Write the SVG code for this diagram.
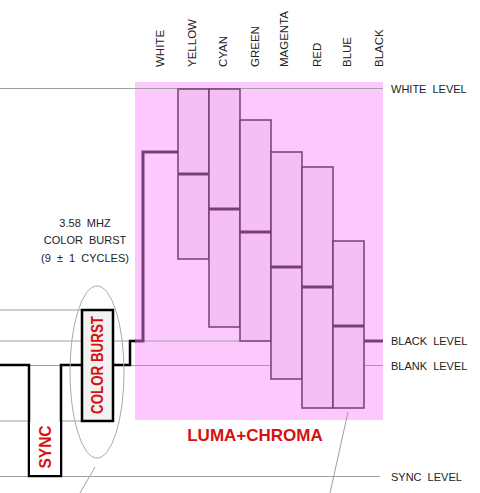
<svg xmlns="http://www.w3.org/2000/svg" width="480" height="493" viewBox="0 0 480 493">
<style>
.g{stroke:#a0a0a0;stroke-width:1;fill:none}
.col{fill:#f4c0f4;stroke:#7a3c7a;stroke-width:1.5}
.mid{stroke:#7a3c7a;stroke-width:3}
.lbl{font-family:"Liberation Sans",Arial,sans-serif;font-size:11px;fill:#222}
.cl{font-size:11.5px}
.red{font-family:"Liberation Sans",Arial,sans-serif;font-weight:bold;fill:#d81010}
</style>
<rect width="480" height="493" fill="#fff"/>
<g id="background">
<rect x="135" y="82" width="248" height="338" fill="#fdc8fd"/>
</g>
<g id="levels">
<line class="g" x1="0" y1="88.5" x2="383" y2="88.5"/>
<line class="g" x1="0" y1="310" x2="82" y2="310"/>
<line class="g" x1="0" y1="341" x2="383" y2="341"/>
<line class="g" x1="0" y1="365.5" x2="383" y2="365.5"/>
<line class="g" x1="0" y1="421" x2="29" y2="421"/>
<line class="g" x1="61" y1="421" x2="82" y2="421"/>
<line class="g" x1="0" y1="476.5" x2="380" y2="476.5"/>
</g>
<g id="columns">
<rect class="col" x="178" y="89" width="31" height="170"/>
<line class="mid" x1="178" y1="174" x2="209" y2="174"/>
<rect class="col" x="209" y="89" width="31" height="238"/>
<line class="mid" x1="209" y1="209" x2="240" y2="209"/>
<rect class="col" x="240" y="120" width="31" height="221"/>
<line class="mid" x1="240" y1="232" x2="271" y2="232"/>
<rect class="col" x="271" y="152" width="31" height="227"/>
<line class="mid" x1="271" y1="267" x2="302" y2="267"/>
<rect class="col" x="302" y="167" width="31" height="241"/>
<line class="mid" x1="302" y1="287" x2="333" y2="287"/>
<rect class="col" x="333" y="241" width="31" height="167"/>
<line class="mid" x1="333" y1="326" x2="364" y2="326"/>
<line class="mid" x1="364" y1="341" x2="383" y2="341"/>
</g>
<g id="signal">
<path d="M0,365 H29 V476 H61 V365 H82 M113,365 H130 V341 H136" fill="none" stroke="#000" stroke-width="2.5"/>
<path d="M135,341 H143 V152 H178" fill="none" stroke="#7a3c7a" stroke-width="3"/>
</g>
<g id="colorburst">
<rect x="82" y="310" width="31" height="111" fill="#f2f2f2" stroke="#000" stroke-width="2.5"/>
<text class="red" font-size="16" transform="translate(103,365) rotate(-90)" text-anchor="middle" textLength="98" lengthAdjust="spacingAndGlyphs">COLOR BURST</text>
</g>
<g id="sync">
<rect x="30" y="422" width="30" height="53" fill="#fff"/>
<text class="red" font-size="16" transform="translate(51,447) rotate(-90)" text-anchor="middle" textLength="43" lengthAdjust="spacingAndGlyphs">SYNC</text>
</g>
<g id="connectors">
<ellipse cx="97" cy="372" rx="27" ry="86" fill="none" stroke="#aaa" stroke-width="1"/>
<line class="g" x1="95" y1="467" x2="80" y2="493"/>
<line class="g" x1="348" y1="412" x2="330" y2="493"/>
</g>
<g id="burst-note">
<text class="lbl" x="85" y="227" text-anchor="middle" word-spacing="3">3.58 MHZ</text>
<text class="lbl" x="85" y="244" text-anchor="middle" word-spacing="3">COLOR BURST</text>
<text class="lbl" x="85" y="262" text-anchor="middle" word-spacing="3">(9 ± 1 CYCLES)</text>
</g>
<g id="column-labels">
<text class="lbl cl" transform="translate(164,67) rotate(-90)">WHITE</text>
<text class="lbl cl" transform="translate(196,67) rotate(-90)">YELLOW</text>
<text class="lbl cl" transform="translate(227,67) rotate(-90)">CYAN</text>
<text class="lbl cl" transform="translate(259,67) rotate(-90)">GREEN</text>
<text class="lbl cl" transform="translate(288,67) rotate(-90)">MAGENTA</text>
<text class="lbl cl" transform="translate(321,67) rotate(-90)">RED</text>
<text class="lbl cl" transform="translate(351,67) rotate(-90)">BLUE</text>
<text class="lbl cl" transform="translate(383,67) rotate(-90)">BLACK</text>
</g>
<g id="level-labels">
<text class="lbl" x="391" y="93" word-spacing="3">WHITE LEVEL</text>
<text class="lbl" x="391" y="345" word-spacing="3">BLACK LEVEL</text>
<text class="lbl" x="391" y="370" word-spacing="3">BLANK LEVEL</text>
<text class="lbl" x="391" y="481" word-spacing="3">SYNC LEVEL</text>
</g>
<g id="luma">
<text class="red" font-size="17" x="255" y="441" text-anchor="middle">LUMA+CHROMA</text>
</g>
</svg>
